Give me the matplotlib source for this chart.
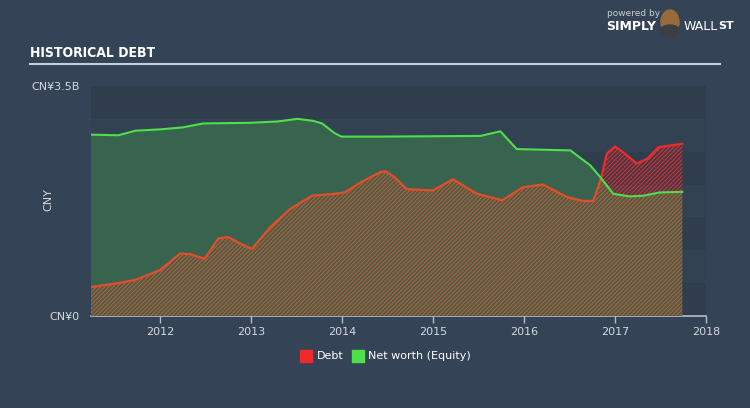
import numpy as np
import matplotlib
matplotlib.use("Agg")
import matplotlib.pyplot as plt
from matplotlib.patches import Rectangle, Ellipse

# values in CNY billions
debt_years = [2011.24, 2011.54, 2011.73, 2012.0, 2012.22, 2012.33, 2012.49, 2012.64, 2012.75,
              2012.88, 2013.01, 2013.21, 2013.43, 2013.67, 2013.92, 2014.03, 2014.2, 2014.42,
              2014.48, 2014.58, 2014.71, 2015.0, 2015.22, 2015.48, 2015.76, 2015.99, 2016.21,
              2016.47, 2016.65, 2016.76, 2016.84, 2016.91, 2017.0, 2017.09, 2017.24, 2017.35,
              2017.48, 2017.74]
debt = [0.44, 0.50, 0.55, 0.70, 0.95, 0.94, 0.87, 1.18, 1.20,
        1.10, 1.02, 1.35, 1.63, 1.83, 1.86, 1.88, 2.03, 2.19,
        2.20, 2.11, 1.93, 1.91, 2.08, 1.86, 1.76, 1.96, 2.00,
        1.81, 1.75, 1.75, 2.06, 2.47, 2.58, 2.49, 2.32, 2.39,
        2.57, 2.62]

equity_years = [2011.24, 2011.54, 2011.73, 2012.0, 2012.25, 2012.47, 2012.99, 2013.29, 2013.51,
                2013.68, 2013.78, 2013.91, 2013.99, 2014.42, 2015.52, 2015.74, 2015.92, 2016.51,
                2016.73, 2016.84, 2016.98, 2017.16, 2017.31, 2017.49, 2017.74]
equity = [2.76, 2.75, 2.82, 2.84, 2.87, 2.93, 2.94, 2.96, 3.00,
          2.97, 2.93, 2.79, 2.73, 2.73, 2.74, 2.81, 2.54, 2.52,
          2.29, 2.11, 1.86, 1.82, 1.83, 1.88, 1.89]

year_ticks = [2012, 2013, 2014, 2015, 2016, 2017, 2018]

bg = '#344456'
green_fill = '#37634f'
green_line = '#4ee04a'
red = '#ee2a2a'
orange = '#d2552e'
txt = '#d4d9de'

plt.rcParams['hatch.linewidth'] = 0.8

fig = plt.figure(figsize=(7.5, 4.08), dpi=100, facecolor=bg)
ax = fig.add_axes([91/750, 92/408, 615/750, 230/408])
ax.set_facecolor(bg)
ax.set_xlim(2011.24, 2018.0)
ax.set_ylim(0, 3.5)

# background bands
for i in range(7):
    ax.axhspan(i*0.5, (i+1)*0.5, color='#2f3d4d' if i % 2 == 0 else '#324253', lw=0, zorder=0)

hatch = '/' * 8
# debt hatch (red) everywhere
ax.fill_between(debt_years, 0, debt, facecolor='none', edgecolor=red, hatch=hatch, lw=0, zorder=2)
# equity area on top
eq = ax.fill_between(equity_years, 0, equity, facecolor=green_fill, lw=0, zorder=3)
clip = eq.get_paths()[0]
# debt hatch (orange) inside equity area
h2 = ax.fill_between(debt_years, 0, debt, facecolor='none', edgecolor=orange, hatch=hatch, lw=0, zorder=4)
h2.set_clip_path(clip, transform=ax.transData)

ax.plot(debt_years, debt, color=red, lw=1.6, zorder=5)
l2, = ax.plot(debt_years, debt, color=orange, lw=1.6, zorder=6)
l2.set_clip_path(clip, transform=ax.transData)
ax.plot(equity_years, equity, color=green_line, lw=1.5, zorder=7)

for s in ['top', 'right', 'left']:
    ax.spines[s].set_visible(False)
ax.spines['bottom'].set_color('#b5bec8')
ax.spines['bottom'].set_linewidth(1.2)
ax.set_xticks(year_ticks)
ax.set_xticklabels([str(y) for y in year_ticks])
ax.tick_params(axis='x', colors='#b5bec8', labelcolor=txt, labelsize=8, length=5, width=1, pad=3)
ax.set_yticks([0, 3.5])
ax.set_yticklabels(['CN¥0', 'CN¥3.5B'])
ax.tick_params(axis='y', length=0, labelcolor=txt, labelsize=8, pad=8)
fig.text(48/750, 1 - 200/408, 'CNY', color=txt, fontsize=8, rotation=90, ha='center', va='center')

# title and rule
fig.text(30/750, 1 - 53/408, 'HISTORICAL DEBT', color='white', fontsize=10, fontweight='bold',
         family='DejaVu Sans', fontstretch='condensed', va='center')
fig.add_artist(plt.Line2D([30/750, 720/750], [1 - 64/408, 1 - 64/408], color='#c8ced6', lw=1.5))

# logo text
fig.text(607/750, 1 - 14/408, 'powered by', color='#c8ced6', fontsize=6.5, va='center')
fig.text(606/750, 1 - 26/408, 'SIMPLY', color='white', fontsize=9, fontweight='bold', va='center')
fig.text(684/750, 1 - 26/408, 'WALL', color='white', fontsize=9, va='center')
fig.text(718/750, 1 - 26/408, 'ST', color='white', fontsize=8, fontweight='bold', va='center')
fig.add_artist(Ellipse((670/750, 1 - 22/408), 18/750, 24/408, color='#9a6a3a', transform=fig.transFigure))
fig.add_artist(Ellipse((670/750, 1 - 31/408), 20/750, 12/408, color='#3a3f46', transform=fig.transFigure))

# legend
fig.add_artist(Rectangle((300/750, 1 - 362/408), 12/750, 12/408, color=red, transform=fig.transFigure))
fig.text(317/750, 1 - 356/408, 'Debt', color='white', fontsize=8, va='center')
fig.add_artist(Rectangle((352/750, 1 - 362/408), 12/750, 12/408, color=green_line, transform=fig.transFigure))
fig.text(368/750, 1 - 356/408, 'Net worth (Equity)', color='white', fontsize=8, va='center')

fig.savefig('out.png', dpi=100, facecolor=bg)
